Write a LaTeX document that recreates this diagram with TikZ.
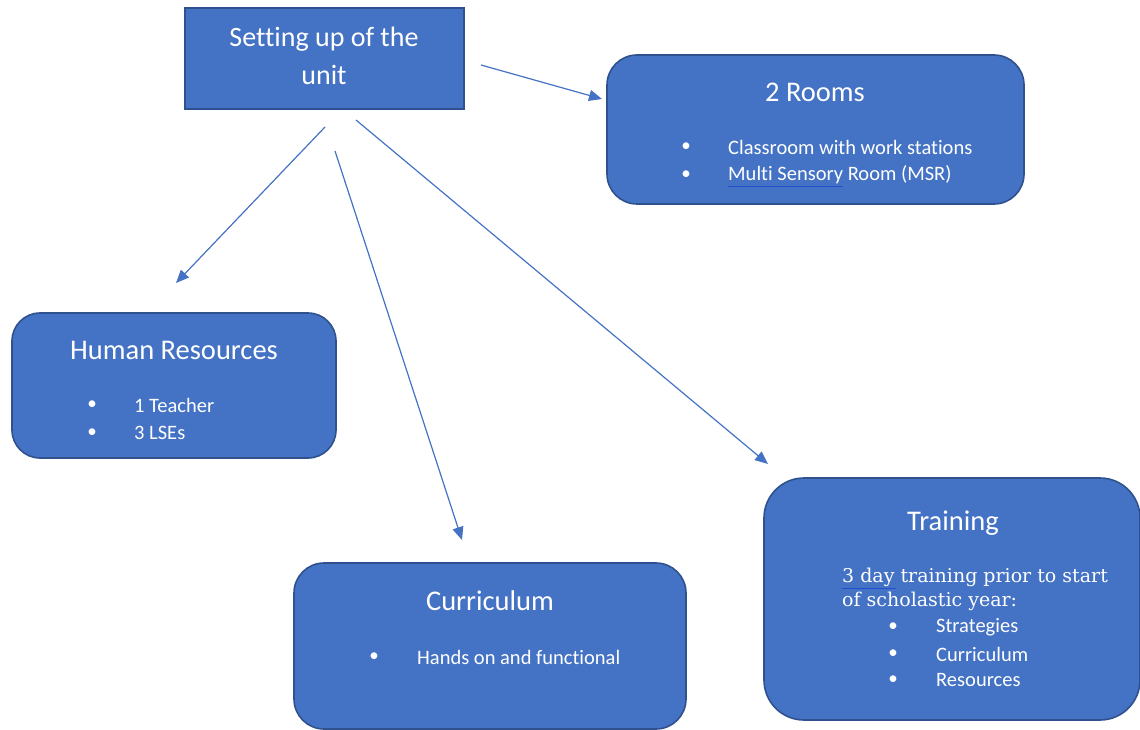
\documentclass[tikz,border=0pt]{standalone}
\usepackage{fontspec}
\setmainfont{Carlito}[Ligatures=NoCommon]
\newfontfamily\serifdv{DejaVu Serif}
\usetikzlibrary{arrows.meta}
\definecolor{boxblue}{HTML}{4472C4}
\definecolor{boxedge}{HTML}{2F528F}
\definecolor{spell}{HTML}{2050D0}
\begin{document}
\begin{tikzpicture}[x=1pt,y=-1pt,
  box/.style={draw=boxedge, fill=boxblue, line width=1.6pt, inner sep=0pt},
  rbox/.style={box, rounded corners=#1},
  ttl/.style={text=white, font=\fontsize{28.5}{32}\selectfont, inner sep=0pt},
  itm/.style={text=white, font=\fontsize{20.5}{24}\selectfont, inner sep=0pt, anchor=west},
  bul/.style={text=white, font=\fontsize{19}{23}\selectfont, inner sep=0pt},
  srf/.style={text=white, font=\serifdv\fontsize{19}{22}\selectfont, inner sep=0pt, anchor=west},
  conn/.style={draw=boxblue, line width=1.2pt, -{Triangle[length=13pt,width=11pt]}}]
\useasboundingbox (0,0) rectangle (1140,730);

% boxes
\node[box, minimum width=279pt, minimum height=101pt] (top) at (324.5,58.5) {};
\node[rbox=30pt, minimum width=417pt, minimum height=149pt] (rooms) at (815.5,129.5) {};
\node[rbox=28pt, minimum width=324pt, minimum height=145pt] (hr) at (174,385.5) {};
\node[rbox=30pt, minimum width=392pt, minimum height=166pt] (cur) at (490,646) {};
\node[rbox=40pt, minimum width=376pt, minimum height=242pt] (trn) at (952,599) {};

% top text
\node[ttl, font=\fontsize{28}{38}\selectfont, align=center] (toptxt) at (324,56) {Setting up of the\\unit};

% rooms
\node[ttl] (roomsttl) at (815,92) {2 Rooms};
\node[bul] (rb1) at (686,147) {•};
\node[bul] (rb2) at (686,175) {•};
\node[itm] (ri1) at (728,147) {Classroom with work stations};
\node[itm] (ri2) at (728,175) {Multi Sensory Room (MSR)};

% human resources
\node[ttl] (hrttl) at (174,350) {Human Resources};
\node[bul] (hb1) at (92,405) {•};
\node[bul] (hb2) at (92,433) {•};
\node[itm] (hi1) at (134,405) {1 Teacher};
\node[itm] (hi2) at (134,433) {3 LSEs};

% curriculum
\node[ttl] (curttl) at (490,601) {Curriculum};
\node[bul] (cb1) at (374,657) {•};
\node[itm] (ci1) at (417,657) {Hands on and functional};

% training
\node[ttl] (trnttl) at (953,523) {Training};
\node[srf] (ts1) at (842,577) {3 day training prior to start};
\node[srf] (ts2) at (842,601) {of scholastic year:};
\node[bul] (tb1) at (893,627) {•};
\node[bul] (tb2) at (893,654) {•};
\node[bul] (tb3) at (893,680) {•};
\node[itm] (ti1) at (936,627) {Strategies};
\node[itm] (ti2) at (936,654) {Curriculum};
\node[itm] (ti3) at (936,680) {Resources};

% spellcheck underlines
\draw[spell, line width=0.8pt] (728,186) -- (843,186);
\draw[spell, line width=0.8pt] (842,588) -- (896,588);

% connector ends
\coordinate (s1) at (481,65);  \coordinate (e1) at (602,99);
\coordinate (s2) at (325,127); \coordinate (e2) at (176,283);
\coordinate (s3) at (335,151); \coordinate (e3) at (462,540);
\coordinate (s4) at (356,120); \coordinate (e4) at (768,464);
\draw[conn] (s1) -- (e1);
\draw[conn] (s2) -- (e2);
\draw[conn] (s3) -- (e3);
\draw[conn] (s4) -- (e4);
\end{tikzpicture}
\end{document}
